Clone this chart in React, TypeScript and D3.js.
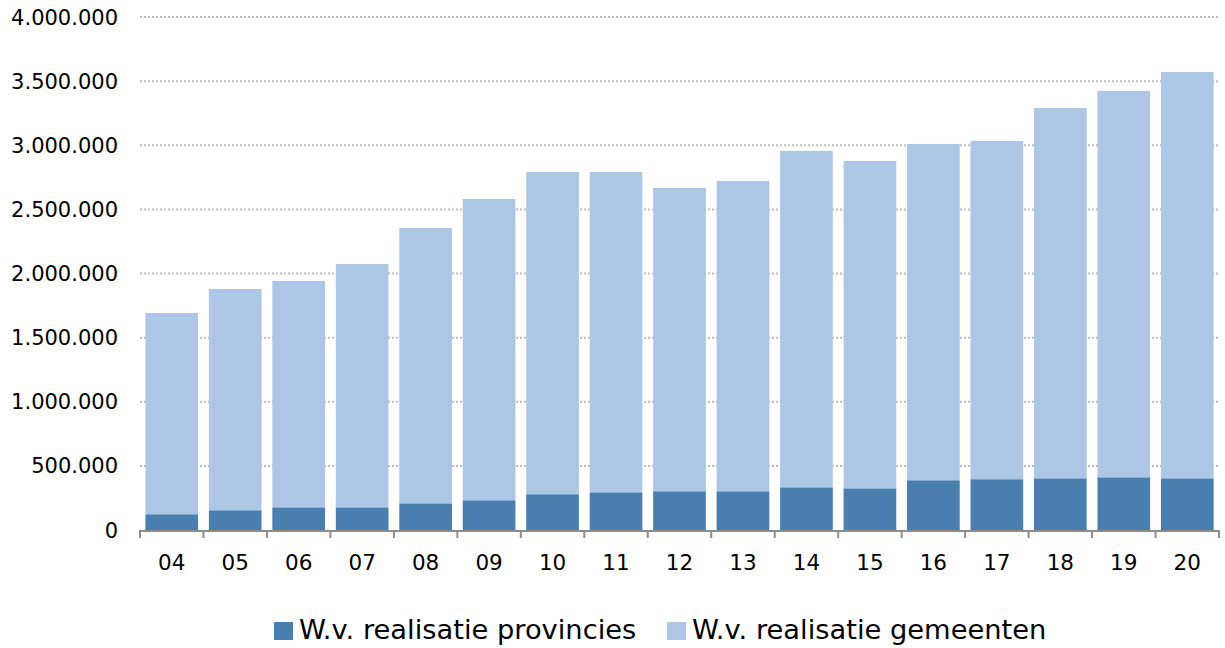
import React from "react";
import * as d3 from "d3";

const years = ["04","05","06","07","08","09","10","11","12","13","14","15","16","17","18","19","20"];
const provincies = [123000,154000,177000,177000,208000,232000,279000,294000,302000,302000,333000,325000,388000,396000,403000,411000,403000];
const totals = [1692000,1879000,1942000,2074000,2355000,2581000,2791000,2791000,2667000,2721000,2955000,2877000,3010000,3033000,3290000,3423000,3571000];
const gemeenten = totals.map((t, i) => t - provincies[i]);
const yTicks = [0,500000,1000000,1500000,2000000,2500000,3000000,3500000,4000000];
const seriesNames = ["W.v. realisatie provincies", "W.v. realisatie gemeenten"];
const colors = ["#4a7eae", "#adc6e5"];

const W = 1225, H = 648;
const left = 140, right = 1219, top = 17, bottom = 530;
const font = "'DejaVu Sans', Verdana, sans-serif";

const fmt = (v: number) => d3.format(",")(v).replace(/,/g, ".");

export default function App() {
  const x = d3.scaleBand<string>().domain(years).range([left, right]).paddingInner(0.17).paddingOuter(0.085);
  const xb = d3.scaleBand<string>().domain(years).range([left, right]);
  const y = d3.scaleLinear().domain([0, 4000000]).range([bottom, top]);
  const rows = years.map((yr, i) => ({ yr, p: provincies[i], g: gemeenten[i] }));
  const stack = d3.stack<any>().keys(["p", "g"])(rows);

  return (
    <svg width={W} height={H} style={{ position: "absolute", left: 0, top: 0, background: "#fff" }}>
      {yTicks.map((t) => (
        <g key={t}>
          {t > 0 && (
            <line x1={left} x2={right} y1={y(t)} y2={y(t)} stroke="#bdbdbd" strokeWidth={2} strokeDasharray="2,2" />
          )}
          <text x={118} y={y(t)} dy="0.36em" textAnchor="end" fontFamily={font} fontSize={21} fill="#000">
            {fmt(t)}
          </text>
        </g>
      ))}
      {stack.map((s, si) => (
        <g key={si} fill={colors[si]}>
          {s.map((d: any, i: number) => (
            <rect key={i} x={x(years[i])} width={x.bandwidth()} y={y(d[1])} height={y(d[0]) - y(d[1])} />
          ))}
        </g>
      ))}
      <line x1={left} x2={right} y1={bottom + 1} y2={bottom + 1} stroke="#8c8c8c" strokeWidth={2} />
      {years.concat(["end"]).map((yr, i) => {
        const xx = left + i * xb.bandwidth();
        return <line key={yr} x1={xx} x2={xx} y1={bottom} y2={bottom + 8} stroke="#8c8c8c" strokeWidth={2} />;
      })}
      {years.map((yr) => (
        <text key={yr} x={(xb(yr) as number) + xb.bandwidth() / 2} y={570} textAnchor="middle" fontFamily={font} fontSize={21.5} fill="#000">
          {yr}
        </text>
      ))}
      {seriesNames.map((n, i) => {
        const lx = [274, 667][i];
        return (
          <g key={n}>
            <rect x={lx} y={622} width={19} height={18} fill={colors[i]} />
            <text x={lx + 25} y={639} fontFamily={font} fontSize={27.3} fill="#000">
              {n}
            </text>
          </g>
        );
      })}
    </svg>
  );
}
